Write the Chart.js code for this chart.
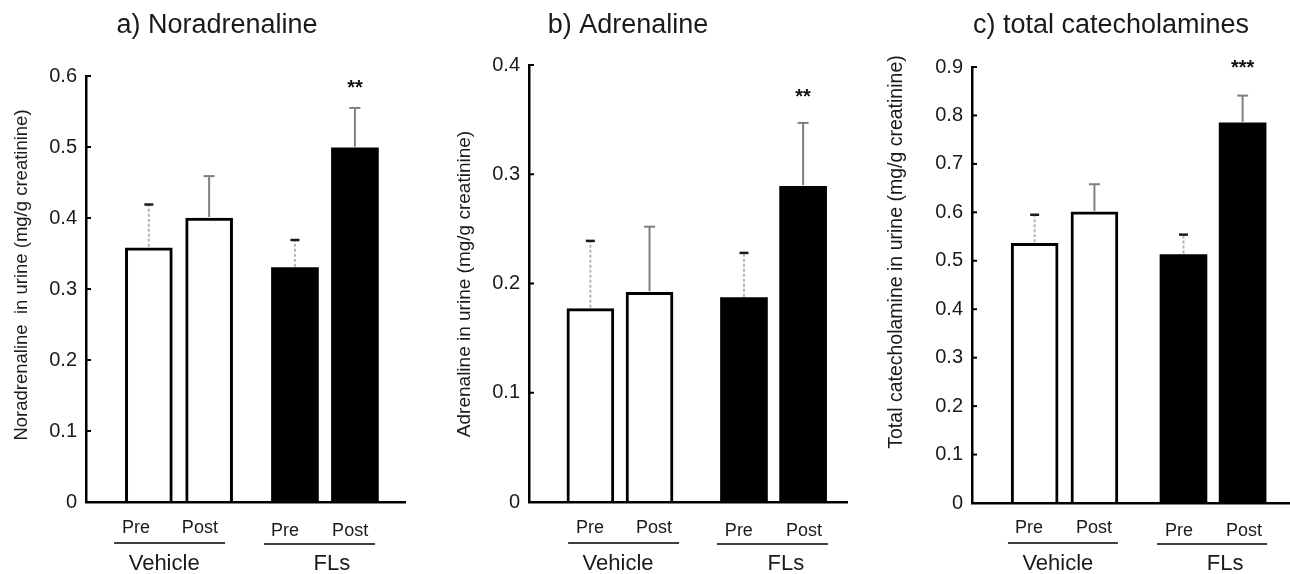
<!DOCTYPE html>
<html>
<head>
<meta charset="utf-8">
<script src="https://cdn.jsdelivr.net/npm/chart.js@4.4.1/dist/chart.umd.min.js"></script>
<style>
  html, body { margin: 0; padding: 0; background: #fff; }
  #wrap { position: relative; width: 1290px; height: 574px; overflow: hidden; }
  .panel { position: absolute; top: 0; height: 574px; }
</style>
</head>
<body>
<div id="wrap">
  <div class="panel" style="left:0;width:430px"><canvas id="chart-a" width="430" height="574"></canvas></div>
  <div class="panel" style="left:430px;width:430px"><canvas id="chart-b" width="430" height="574"></canvas></div>
  <div class="panel" style="left:860px;width:430px"><canvas id="chart-c" width="430" height="574"></canvas></div>
</div>
<script>
// Data (mean and upper error, mg/g creatinine)
const groups = ['Vehicle', 'FLs'];
const timepoints = ['Pre', 'Post', 'Pre', 'Post'];

const noradMeans = [0.358, 0.400, 0.330, 0.499];
const noradErrors = [0.061, 0.059, 0.039, 0.056];
const noradTicks = [0, 0.1, 0.2, 0.3, 0.4, 0.5, 0.6];
const noradStars = ['', '', '', '**'];

const adrenMeans = [0.177, 0.192, 0.187, 0.289];
const adrenErrors = [0.062, 0.060, 0.041, 0.058];
const adrenTicks = [0, 0.1, 0.2, 0.3, 0.4];
const adrenStars = ['', '', '', '**'];

const totalMeans = [0.536, 0.601, 0.513, 0.785];
const totalErrors = [0.059, 0.057, 0.041, 0.056];
const totalTicks = [0, 0.1, 0.2, 0.3, 0.4, 0.5, 0.6, 0.7, 0.8, 0.9];
const totalStars = ['', '', '', '***'];

const FONT = "'Liberation Sans', Arial, sans-serif";
const barFill = ['#ffffff', '#ffffff', '#000000', '#000000'];

// Decorations: error bars, stars, titles, group labels
const decorations = {
    id: 'decorations',
    afterDatasetsDraw(chart, args, opts) {
        const ctx = chart.ctx;
        const y = chart.scales.y;
        chart.getDatasetMeta(0).data.forEach((bar, i) => {
            const top = y.getPixelForValue(opts.means[i] + opts.errors[i]);
            const pre = timepoints[i] === 'Pre';
            ctx.save();
            ctx.lineWidth = 2;
            ctx.strokeStyle = pre ? '#b5b5b5' : '#7f7f7f';
            if (pre) ctx.setLineDash([3, 2]);
            ctx.beginPath();
            ctx.moveTo(bar.x, bar.y - 1);
            ctx.lineTo(bar.x, top);
            ctx.stroke();
            ctx.setLineDash([]);
            ctx.strokeStyle = pre ? '#1a1a1a' : '#7f7f7f';
            ctx.lineWidth = pre ? 2.5 : 2;
            const half = pre ? 4.5 : 5.5;
            ctx.beginPath();
            ctx.moveTo(bar.x - half, top);
            ctx.lineTo(bar.x + half, top);
            ctx.stroke();
            if (opts.stars[i]) {
                ctx.fillStyle = '#111';
                ctx.font = 'bold 20px ' + FONT;
                ctx.textAlign = 'center';
                ctx.textBaseline = 'middle';
                ctx.fillText(opts.stars[i], bar.x, top - opts.layout.starGap);
            }
            ctx.restore();
        });
    },
    afterDraw(chart, args, opts) {
        const ctx = chart.ctx;
        const x = chart.scales.x;
        const y = chart.scales.y;
        const L = opts.layout;
        const area = chart.chartArea;
        ctx.save();
        // inward tick marks
        ctx.strokeStyle = '#000';
        ctx.lineWidth = 2;
        y.ticks.forEach(t => {
            const py = y.getPixelForValue(t.value);
            ctx.beginPath();
            ctx.moveTo(area.left, py);
            ctx.lineTo(area.left + 5, py);
            ctx.stroke();
        });
        ctx.fillStyle = '#1a1a1a';
        // panel title
        ctx.font = '27px ' + FONT;
        ctx.textAlign = 'center';
        ctx.textBaseline = 'alphabetic';
        ctx.fillText(opts.title, L.titleX, 33);
        // y-axis title
        ctx.save();
        ctx.translate(L.yTitleX, L.yTitleY);
        ctx.rotate(-Math.PI / 2);
        ctx.font = L.yTitleSize + 'px ' + FONT;
        ctx.textBaseline = 'middle';
        ctx.fillText(opts.yTitle, 0, 0);
        ctx.restore();
        // Pre / Post
        ctx.font = '18px ' + FONT;
        timepoints.forEach((t, i) => {
            ctx.fillText(t, x.getPixelForValue(L.labelPos[i]), i < 2 ? 533 : 536);
        });
        // group underlines and names
        ctx.strokeStyle = '#000';
        ctx.lineWidth = 1.5;
        L.linePos.forEach((seg, g) => {
            const ly = g === 0 ? 543 : 544;
            ctx.beginPath();
            ctx.moveTo(x.getPixelForValue(seg[0]), ly);
            ctx.lineTo(x.getPixelForValue(seg[1]), ly);
            ctx.stroke();
        });
        ctx.font = '22px ' + FONT;
        groups.forEach((g, i) => {
            ctx.fillText(g, x.getPixelForValue(L.groupPos[i]), 570);
        });
        ctx.restore();
    }
};

function makePanel(id, means, errors, ticks, stars, title, yTitle, layout) {
    const points = means.map((m, i) => ({ x: layout.barPos[i], y: m }));
    return new Chart(document.getElementById(id), {
        type: 'bar',
        data: {
            datasets: [{
                data: points,
                backgroundColor: barFill,
                borderColor: '#000',
                borderWidth: [3, 3, 0, 0],
                barThickness: 47
            }]
        },
        options: {
            responsive: false,
            animation: false,
            layout: {
                padding: { left: 0, top: layout.top, right: layout.padRight, bottom: 574 - layout.bottom }
            },
            plugins: {
                legend: { display: false },
                tooltip: { enabled: false },
                decorations: { means, errors, stars, title, yTitle, layout }
            },
            scales: {
                x: {
                    type: 'linear',
                    min: 0,
                    max: 10,
                    offset: false,
                    grid: { display: false, offset: false },
                    ticks: { display: false },
                    border: { display: true, color: '#000', width: 2.5, z: 1 },
                    afterFit: s => { s.height = 0; }
                },
                y: {
                    min: 0,
                    max: ticks[ticks.length - 1],
                    grid: { display: false, drawTicks: false },
                    border: { display: true, color: '#000', width: 2.5, z: 1 },
                    afterBuildTicks: axis => { axis.ticks = ticks.map(v => ({ value: v })); },
                    ticks: {
                        padding: 9,
                        color: '#1a1a1a',
                        font: { family: FONT, size: 20 },
                        callback: v => v === 0 ? '0' : v.toFixed(1)
                    },
                    afterFit: s => { s.width = layout.axisX; }
                }
            }
        },
        plugins: [decorations]
    });
}

makePanel('chart-a', noradMeans, noradErrors, noradTicks, noradStars,
    'a) Noradrenaline', 'Noradrenaline  in urine (mg/g creatinine)', {
        axisX: 86, padRight: 25, top: 76, bottom: 502,
        titleX: 217, yTitleX: 22, yTitleY: 275, yTitleSize: 18.5,
        barPos: [1.97, 3.86, 6.55, 8.43],
        labelPos: [1.57, 3.57, 6.24, 8.28],
        linePos: [[0.88, 4.36], [5.58, 9.06]],
        groupPos: [2.45, 7.71],
        starGap: 19
    });

makePanel('chart-b', adrenMeans, adrenErrors, adrenTicks, adrenStars,
    'b) Adrenaline', 'Adrenaline in urine (mg/g creatinine)', {
        axisX: 99, padRight: 13, top: 65, bottom: 502,
        titleX: 198, yTitleX: 35, yTitleY: 284, yTitleSize: 19,
        barPos: [1.93, 3.79, 6.76, 8.62],
        labelPos: [1.92, 3.93, 6.60, 8.65],
        linePos: [[1.23, 4.72], [5.91, 9.40]],
        groupPos: [2.80, 8.08],
        starGap: 25
    });

makePanel('chart-c', totalMeans, totalErrors, totalTicks, totalStars,
    'c) total catecholamines', 'Total catecholamine in urine (mg/g creatinine)', {
        axisX: 112, padRight: 0, top: 67, bottom: 503,
        titleX: 251, yTitleX: 37, yTitleY: 252, yTitleSize: 19.5,
        barPos: [1.97, 3.85, 6.65, 8.51],
        labelPos: [1.79, 3.84, 6.51, 8.55],
        linePos: [[1.13, 4.59], [5.82, 9.28]],
        groupPos: [2.70, 7.96],
        starGap: 27
    });
</script>
</body>
</html>
